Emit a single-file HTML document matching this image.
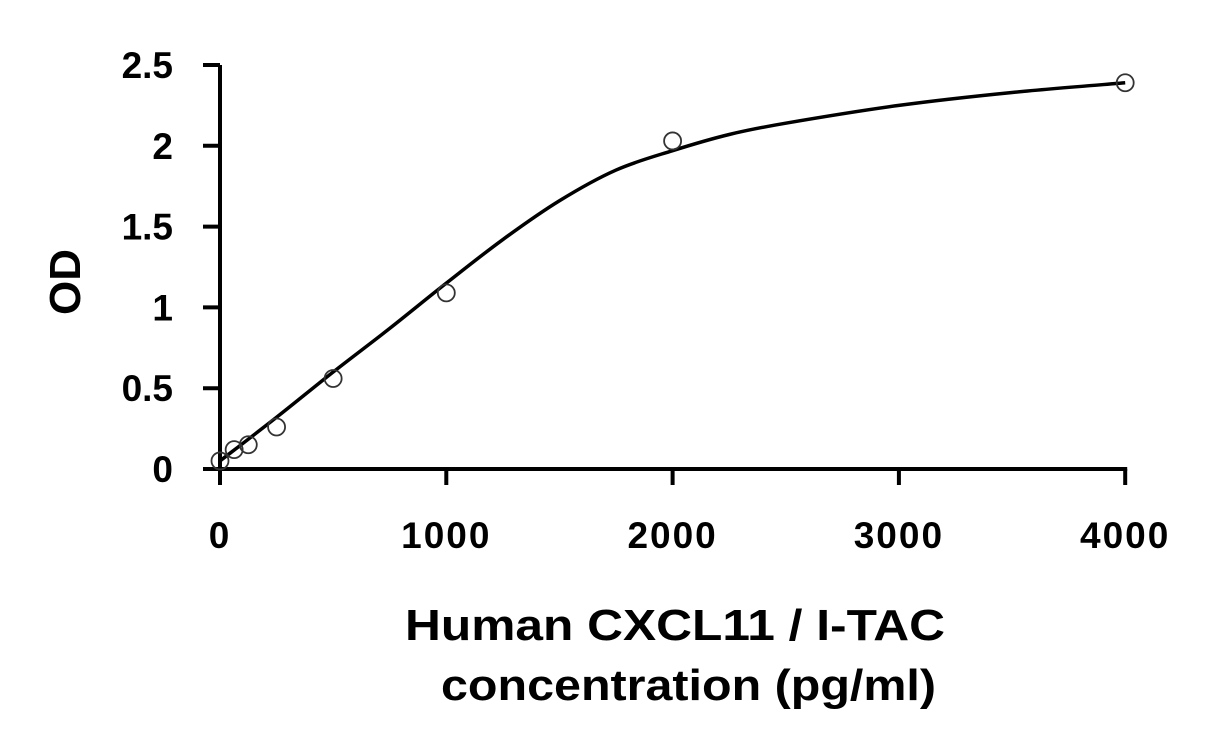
<!DOCTYPE html>
<html><head><meta charset="utf-8"><style>
body{margin:0;background:#fff}
svg text{font-family:"Liberation Sans",sans-serif;font-weight:bold;fill:#000}
</style></head><body>
<svg id="chart" width="1231" height="745">
<g id="axes"></g>
<g id="marks"></g>
<text x="80" y="282" font-size="44" text-anchor="middle" transform="rotate(-90 80 282)">OD</text>
<text x="405" y="640" font-size="44" textLength="540" lengthAdjust="spacingAndGlyphs">Human CXCL11 / I-TAC</text>
<text x="441" y="700" font-size="44" textLength="495" lengthAdjust="spacingAndGlyphs">concentration (pg/ml)</text>
</svg>
<script>
const xTicks=[0,1000,2000,3000,4000];
const xTickLabels=["0","1000","2000","3000","4000"];
const yTicks=[0,0.5,1,1.5,2,2.5];
const yTickLabels=["0","0.5","1","1.5","2","2.5"];
const conc=[0,62.5,125,250,500,1000,2000,4000];
const od=[0.05,0.12,0.15,0.26,0.56,1.09,2.03,2.39];
const fitX=[0,250,500,750,1000,1250,1500,1750,2000,2250,2500,3000,3500,4000];
const fitY=[0.05,0.32,0.6,0.87,1.15,1.42,1.66,1.85,1.97,2.07,2.14,2.25,2.33,2.39];
const X=v=>220+v*0.2263, Y=v=>469-v*161.6;
const NS="http://www.w3.org/2000/svg";
const axes=document.getElementById('axes'), marks=document.getElementById('marks');
function mk(tag,attrs,parent){const e=document.createElementNS(NS,tag);for(const k in attrs)e.setAttribute(k,attrs[k]);parent.appendChild(e);return e;}
let a=mk('line',{x1:220,y1:Y(2.5),x2:220,y2:469,stroke:'#000','stroke-width':4},axes);


a=mk('line',{x1:218,y1:469,x2:X(4000)+2,y2:469,stroke:'#000','stroke-width':4},axes);


yTicks.forEach((v,i)=>{
  const t=mk('line',{x1:203,y1:Y(v),x2:220,y2:Y(v),stroke:'#000','stroke-width':4},axes);
  
  
  const l=mk('text',{x:173,y:Y(v)+13,'font-size':37,'text-anchor':'end'},axes);
  l.textContent=yTickLabels[i];
  
  
});
xTicks.forEach((v,i)=>{
  const t=mk('line',{x1:X(v),y1:469,x2:X(v),y2:485,stroke:'#000','stroke-width':4},axes);
  
  
  const l=mk('text',{x:X(v),y:548,'font-size':37,'text-anchor':'middle','letter-spacing':2},axes);
  l.textContent=xTickLabels[i];
  
  
});
const pts=fitX.map((v,i)=>[X(v),Y(fitY[i])]);
let d='M'+pts[0][0]+','+pts[0][1];
for(let i=0;i<pts.length-1;i++){
  const p0=pts[Math.max(0,i-1)],p1=pts[i],p2=pts[i+1],p3=pts[Math.min(pts.length-1,i+2)];
  d+=' C'+(p1[0]+(p2[0]-p0[0])/6)+','+(p1[1]+(p2[1]-p0[1])/6)+' '+(p2[0]-(p3[0]-p1[0])/6)+','+(p2[1]-(p3[1]-p1[1])/6)+' '+p2[0]+','+p2[1];
}
const c=mk('path',{d:d,fill:'none',stroke:'#000','stroke-width':3.5},marks);


conc.forEach((v,i)=>{
  const p=mk('circle',{cx:X(v),cy:Y(od[i]),r:8.5,fill:'none',stroke:'#333','stroke-width':1.8},marks);
  
  
});
</script>
</body></html>
